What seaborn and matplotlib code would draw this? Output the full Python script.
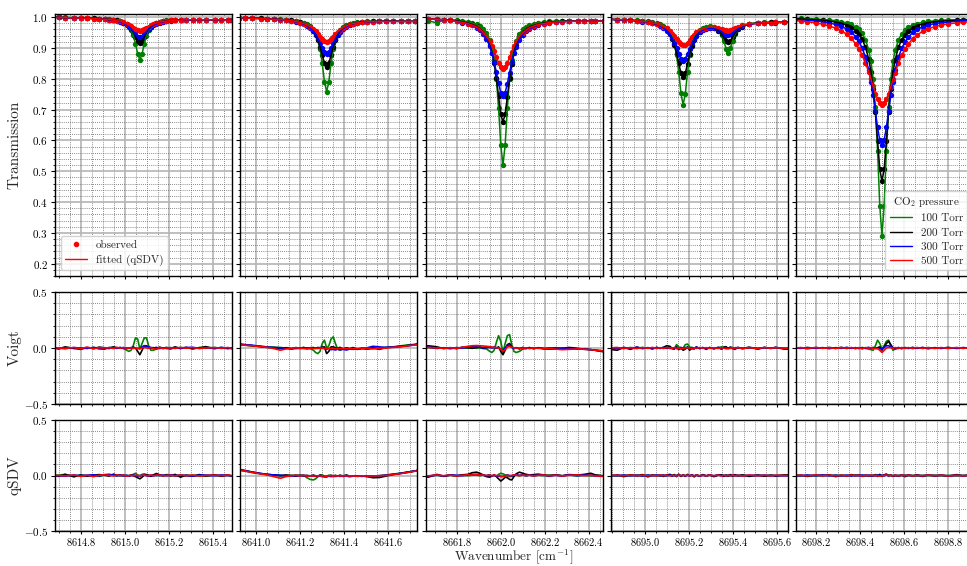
import numpy as np
import pandas as pd
import matplotlib
matplotlib.use("Agg")
import matplotlib.pyplot as plt
from matplotlib.ticker import MultipleLocator, AutoMinorLocator, ScalarFormatter
from matplotlib.lines import Line2D
import seaborn as sns

sns.set_style("ticks")
plt.rcParams.update({
    "font.family": "serif",
    "font.serif": ["cmr10"],
    "mathtext.fontset": "cm",
    "axes.formatter.use_mathtext": True,
    "axes.linewidth": 1.0,
    "axes.edgecolor": "black",
    "xtick.color": "black",
    "ytick.color": "black",
    "xtick.labelsize": 7.5,
    "ytick.labelsize": 8,
    "xtick.major.size": 2.5,
    "ytick.major.size": 3,
    "xtick.minor.size": 1.6,
    "ytick.minor.size": 1.8,
    "xtick.minor.visible": True,
    "ytick.minor.visible": True,
})

PRESSURES = ["100 Torr", "200 Torr", "300 Torr", "500 Torr"]
COLOURS = ["green", "black", "blue", "red"]

# line centres [cm^-1] and the window shown around each of them
CENTRES = [8615.068, 8641.321, 8662.010, 8695.173, 8698.500]
WINDOWS = [(8614.682, 8615.487), (8640.927, 8641.732), (8661.660, 8662.465),
           (8694.845, 8695.650), (8698.109, 8698.914)]

# sampling offsets from the line centre, in 0.001 cm^-1
OFFS_SINGLE = [-400, -370, -340, -300, -270, -240, -210, -185, -160, -140,
               -120, -105, -90, -75, -60, -50, -40, -30, -20, -10,
               0, 10, 20, 30, 40, 50, 60, 75, 90, 105,
               120, 140, 160, 185, 210, 240, 270, 300, 340, 370,
               400, 420, 460, 500]
OFFS_DOUBLE = [-340, -300, -270, -240, -210, -185, -160, -140, -120, -105,
               -90, -75, -60, -50, -40, -30, -20, -10,
               0, 10, 20, 30, 40, 50, 60, 75, 90, 105,
               120, 140, 160, 175, 185, 195, 205, 215, 225, 235,
               250, 270, 300, 340, 370, 400, 420, 460, 500]

# observed transmission (x1000), rows: 100, 200, 300, 500 Torr
T_8615 = [
    [999, 999, 999, 998, 997, 997, 996, 995, 994, 993, 991, 989, 987, 983, 976, 969, 958, 941, 914, 881,
     862, 880, 914, 940, 958, 968, 975, 981, 985, 987, 989, 990, 991, 991, 991, 991, 991, 991, 991, 991, 991, 990, 990, 990],
    [999, 999, 998, 998, 997, 997, 996, 995, 994, 992, 991, 989, 986, 982, 976, 970, 962, 951, 937, 923,
     917, 923, 936, 950, 961, 969, 975, 981, 984, 986, 988, 989, 990, 991, 991, 991, 991, 991, 991, 991, 990, 990, 990, 990],
    [999, 999, 998, 997, 997, 996, 995, 994, 993, 991, 989, 987, 984, 980, 974, 969, 962, 953, 944, 937,
     934, 937, 944, 953, 961, 967, 973, 978, 982, 985, 987, 988, 989, 990, 990, 991, 991, 991, 991, 991, 990, 990, 990, 989],
    [999, 999, 998, 997, 997, 996, 995, 994, 993, 992, 990, 988, 986, 983, 978, 974, 970, 965, 961, 957,
     956, 957, 960, 965, 969, 973, 977, 981, 984, 986, 987, 989, 990, 990, 991, 991, 991, 991, 991, 991, 990, 990, 990, 989],
]
T_8641 = [
    [998, 998, 997, 996, 995, 994, 993, 992, 990, 988, 985, 982, 978, 971, 959, 947, 928, 897, 850, 791,
     758, 790, 850, 896, 927, 945, 958, 969, 975, 979, 982, 984, 985, 986, 987, 987, 987, 987, 987, 987, 986, 986, 986, 985],
    [998, 997, 997, 996, 995, 994, 992, 991, 989, 986, 983, 979, 974, 967, 955, 943, 927, 904, 877, 850,
     838, 850, 876, 903, 925, 941, 953, 964, 972, 976, 979, 982, 984, 985, 986, 986, 987, 987, 986, 986, 986, 986, 985, 985],
    [998, 997, 996, 995, 994, 993, 991, 990, 987, 985, 981, 977, 972, 965, 954, 944, 931, 916, 900, 887,
     881, 886, 899, 915, 930, 942, 952, 962, 969, 974, 978, 981, 983, 984, 985, 986, 986, 986, 986, 986, 986, 986, 985, 985],
    [998, 997, 996, 995, 994, 993, 992, 990, 988, 986, 982, 979, 975, 969, 961, 954, 946, 937, 929, 923,
     920, 922, 928, 936, 945, 952, 959, 966, 972, 976, 979, 981, 983, 985, 985, 986, 986, 986, 986, 986, 986, 986, 985, 984],
]
T_8662 = [
    [996, 994, 988, 981, 990, 991, 990, 988, 985, 981, 976, 970, 961, 948, 925, 900, 862, 800, 705, 586,
     520, 585, 705, 800, 861, 899, 924, 946, 960, 968, 973, 978, 981, 984, 986, 987, 988, 988, 988, 988, 988, 988, 988, 988],
    [996, 996, 995, 993, 992, 990, 988, 985, 981, 976, 970, 962, 952, 935, 910, 885, 850, 802, 743, 685,
     660, 685, 742, 801, 849, 884, 909, 934, 950, 960, 967, 973, 977, 981, 983, 985, 986, 987, 987, 987, 988, 988, 988, 988],
    [996, 995, 994, 992, 991, 989, 986, 982, 978, 973, 965, 957, 945, 929, 905, 883, 854, 821, 785, 755,
     743, 755, 784, 820, 853, 882, 903, 927, 943, 954, 962, 969, 974, 978, 981, 983, 985, 986, 986, 987, 987, 987, 987, 987],
    [996, 995, 994, 993, 991, 989, 986, 983, 979, 974, 968, 961, 951, 938, 921, 906, 889, 870, 851, 837,
     832, 837, 851, 869, 888, 905, 920, 937, 949, 958, 965, 971, 976, 979, 982, 984, 985, 986, 987, 987, 987, 987, 987, 987],
]
T_8695 = [
    [993, 992, 992, 991, 989, 988, 986, 984, 980, 977, 972, 964, 950, 936, 913, 877, 822, 753,
     715, 752, 821, 876, 911, 933, 947, 959, 966, 969, 970, 968, 959, 942, 923, 898, 885, 899, 924, 944,
     962, 973, 979, 982, 983, 983, 984, 984, 984],
    [993, 992, 991, 990, 988, 986, 984, 981, 977, 973, 967, 958, 944, 929, 910, 883, 850, 818,
     804, 818, 849, 881, 907, 926, 939, 952, 960, 964, 965, 963, 956, 944, 933, 923, 918, 923, 935, 947,
     960, 969, 977, 981, 982, 983, 983, 983, 983],
    [993, 991, 990, 989, 987, 985, 983, 980, 976, 971, 965, 956, 944, 932, 917, 900, 881, 865,
     859, 865, 880, 898, 915, 929, 939, 951, 958, 962, 963, 964, 959, 953, 947, 943, 942, 944, 949, 955,
     963, 971, 976, 980, 981, 982, 982, 983, 983],
    [993, 992, 991, 989, 988, 986, 984, 981, 978, 974, 969, 963, 954, 946, 938, 928, 919, 912,
     909, 911, 917, 926, 935, 943, 950, 957, 962, 965, 968, 967, 964, 961, 959, 957, 956, 957, 960, 963,
     968, 973, 978, 980, 982, 982, 983, 983, 983],
]
T_8698 = [
    [996, 996, 995, 994, 992, 991, 988, 985, 981, 976, 968, 960, 947, 927, 893, 856, 799, 708, 566, 388,
     291, 388, 566, 707, 798, 856, 892, 926, 946, 959, 967, 975, 979, 983, 986, 988, 990, 991, 991, 992, 992, 992, 992, 992],
    [995, 994, 993, 991, 990, 987, 984, 980, 974, 967, 956, 945, 928, 902, 863, 823, 767, 692, 598, 507,
     467, 507, 597, 692, 767, 822, 862, 902, 927, 943, 955, 965, 972, 978, 982, 985, 987, 988, 990, 990, 991, 991, 991, 991],
    [993, 991, 990, 987, 985, 981, 976, 970, 961, 951, 937, 921, 900, 870, 828, 791, 746, 694, 642, 601,
     585, 601, 642, 694, 746, 791, 828, 870, 899, 920, 935, 950, 960, 968, 974, 979, 982, 984, 987, 988, 989, 989, 989, 989],
    [989, 987, 985, 981, 977, 971, 964, 956, 944, 931, 914, 898, 877, 851, 821, 798, 775, 752, 734, 721,
     716, 720, 733, 752, 774, 798, 820, 851, 876, 897, 913, 930, 942, 954, 962, 969, 974, 978, 981, 983, 985, 986, 986, 986],
]

# observed minus calculated (x1000) for the Voigt fit
V_8615 = [
    [0, -5, 3, -4, 2, -3, 5, 0, -4, 3, 6, -2, 4, -3, -20, -30, -20, 20, 90, 80,
     -10, 40, 90, 90, 20, -20, -20, -10, 3, -5, 2, 4, -3, 5, 0, -4, 3, -2, 5, -3, 2, -6, 0, 0],
    [5, -8, 10, -3, -12, 4, -6, 8, 2, -5, 10, 3, -2, 4, -5, 0, 3, 8, 0, -30,
     -60, -20, 20, 20, 5, -3, 4, -6, 8, -2, 5, -4, 10, -3, 6, -8, 3, 12, -5, 4, -6, 2, 0, 0],
    [3, -2, -6, 4, 0, -3, 5, -8, -10, 4, 2, -3, 5, -4, 2, -3, 0, 4, -2, -5,
     -2, 10, 20, 15, 8, 5, -3, 6, -5, 2, -4, -8, 3, -5, 4, 6, -3, 2, -4, 5, 0, -5, 0, 0],
    [2, 0, -3, 4, -5, 8, -6, 3, 0, 2, -4, 5, -2, 3, 0, -2, 3, -4, 2, -5,
     -3, 0, 4, 2, -3, 5, -6, -10, 3, -4, 0, 2, -3, 4, -2, 3, -4, 0, 3, -2, 4, -3, 0, 0],
]
V_8641 = [
    [30, 25, 18, 15, 10, 8, 4, 0, -3, 2, -5, 3, -2, -5, -20, -40, -50, -30, 40, 70,
     0, 20, 80, 100, 40, -10, -20, -8, -3, -10, -12, -8, -5, -10, -6, 0, 5, 10, 20, 28, 32, 35, 40, 40],
    [35, 28, 22, 12, 5, 2, -5, 3, -8, 4, -3, 5, -6, 2, 4, -3, 5, -2, 8, 10,
     -50, -30, 10, 10, 3, -5, 6, -8, 2, -6, 4, -10, -2, -8, 3, -12, 4, 8, 15, 22, 30, 38, 40, 40],
    [35, 30, 25, 15, 8, 4, 2, -3, -8, -5, -2, 3, 0, -4, 2, -3, 0, 4, 2, -5,
     -10, -5, -15, -12, -18, -10, -15, -12, -18, -10, -8, -12, -5, 2, 15, 10, 5, 8, 15, 20, 28, 35, 40, 40],
    [30, 25, 20, 12, 6, -5, -20, -8, -3, 2, -3, -5, -8, -2, -6, -3, -4, -2, 0, -5,
     -3, -2, -4, -3, -5, -6, -4, -5, -3, -6, -4, -5, -3, -2, -6, -4, 0, 5, 12, 20, 26, 32, 35, 35],
]
V_8662 = [
    [0, 0, 5, -3, 2, -5, 0, 3, -2, 4, -3, 2, -5, -8, -30, -40, -20, 50, 110, 60,
     -40, 40, 110, 120, 30, -30, -40, -30, -10, -5, 2, -4, 3, -5, 2, -3, 0, -6, -10, -8, -15, -20, -30, -30],
    [0, 0, 20, 10, -5, 3, -6, 8, 4, -3, 5, 10, -2, 4, 8, 3, 6, 0, 10, -30,
     -60, -20, 30, 40, 10, -5, 3, -8, 5, -3, 4, -6, 2, -5, -10, -8, -4, 5, -3, -12, -15, -20, -35, -35],
    [0, 0, 8, -3, 2, -5, 4, -2, 8, 12, 10, 5, 2, 6, 4, 2, 5, 3, 0, -8,
     -20, 0, 25, 20, 5, -3, 2, -5, 3, -4, 2, -3, 0, -6, -4, 2, -3, -5, -10, -8, -15, -20, -25, -25],
    [0, 0, 5, 0, -3, 2, -2, 5, 15, 20, 22, 20, 18, 15, 12, 8, 5, 3, 0, -10,
     -25, -15, 10, 15, 8, 2, -2, 0, -3, 2, -5, 0, -3, -4, -6, -10, -15, -12, -8, -10, -15, -20, -28, -28],
]
V_8695 = [
    [0, 3, -5, 4, -2, 5, -3, 2, -4, 3, -2, 4, -5, -3, -10, 30, 10, -10,
     0, 30, 35, 10, -10, -5, 3, -4, 2, -5, 3, -2, 4, 10, 5, -5, -3, 8, 4, -2, 3, -4, 2, -3, 4, -2, 3, -3, -3],
    [-10, -20, 5, -12, 8, -5, 3, -8, 6, -4, 5, 20, 15, -5, -8, 10, -15, 5,
     -20, -10, 10, -20, 5, -8, 10, -5, 3, -12, 5, -8, 4, -10, 8, 12, -5, 6, -3, -12, 4, -6, 8, -10, 5, -4, 6, -10, -10],
    [3, -5, 4, -2, 6, -3, 2, -6, 4, -2, 5, -3, 2, -4, 3, -5, 2, 4,
     -3, 5, 3, -2, 4, -3, 6, -2, 4, -5, 2, -3, 5, -8, 4, 3, -2, 5, -6, 2, 4, -3, 2, -4, 3, -2, 4, -3, -3],
    [0, 4, -3, 2, -5, 3, -2, 5, -3, 2, -4, 3, 0, -2, 4, -3, 2, -5,
     -3, 0, 3, -2, -4, 2, -3, 4, -2, 3, -3, 2, -4, 3, -2, -5, -6, -3, 2, -2, 3, -4, 2, -3, 4, -2, 3, -2, -2],
]
V_8698 = [
    [3, -2, 4, -3, 2, -5, 3, -2, 4, -3, 2, -4, 5, -3, -10, -15, -20, 20, 70, 40,
     -10, 20, 60, 70, 20, -20, -10, -3, 4, -2, 3, -5, 2, -3, 4, -2, 3, -4, 2, -3, 4, -2, 0, 0],
    [-5, 3, -6, 4, -2, 5, -3, 6, -4, 2, -5, 3, -6, 2, 4, -3, 5, -2, 3, 10,
     -20, 10, 40, 60, 30, 0, -5, 3, -6, 4, -2, 5, -3, 4, -6, 3, -2, 5, -4, 2, -5, 3, 0, 0],
    [2, -3, 4, -2, 3, -4, 2, -3, 5, -2, 3, -4, 2, -3, 4, -2, 3, -5, -3, -5,
     -8, 5, 20, 20, 10, 3, -2, 4, -3, 2, -4, 3, -2, 4, -3, 2, -4, 3, -2, 4, -3, 2, 0, 0],
    [0, 3, -2, 4, -3, 2, -4, 3, -2, 4, -3, 2, -5, 3, -2, 4, -3, -2, -5, -20,
     -40, -20, 0, 5, 3, -2, 4, -3, 2, -4, 3, -2, 4, -3, 2, -4, 3, -2, 4, -3, 2, -3, 0, 0],
]

# observed minus calculated (x1000) for the quadratic speed-dependent Voigt fit
Q_8615 = [
    [-5, 3, 10, -6, 4, -2, 3, -8, 5, 8, 4, -3, 6, -4, 2, -5, 3, 10, 20, 5,
     -5, 10, 15, 5, -3, -6, 4, -2, 5, -3, 8, 4, -5, 3, -2, 4, -4, -6, 3, -2, 5, -8, 0, 0],
    [5, -8, 10, -12, 4, -6, 3, 8, 2, -5, 12, 3, -2, 4, -5, 0, 3, -2, -10, -20,
     -30, -15, 5, 8, 3, -8, 4, 18, 6, -3, 5, -4, 10, -15, 3, -6, 8, -3, 5, -6, 2, -3, 0, 0],
    [3, -2, -6, 4, -2, 3, 5, -4, 8, 10, 4, -3, 5, -4, 2, -6, 0, 4, -2, -5,
     0, 2, 4, -2, -6, 3, -4, 6, -2, 4, -3, 5, -2, 3, 0, -5, 2, 4, -3, 5, 0, -4, 0, 0],
    [2, 0, -3, 4, -8, 2, -10, 3, 6, 2, -4, 5, 0, 3, -6, -2, 3, -4, 2, 0,
     -3, 2, 4, 0, -3, 5, -2, 4, 3, -2, 0, 2, -3, 4, -2, 3, -4, 0, 3, -2, 4, -3, 0, 0],
]
Q_8641 = [
    [50, 40, 28, 15, 8, 5, 2, -3, 0, 4, -2, 3, -20, -35, -40, -30, -10, 0, 5, -5,
     -8, 3, -5, -10, -6, -3, -8, -4, -5, -8, -3, -6, -4, -8, -5, -2, 5, 12, 22, 32, 40, 50, 55, 55],
    [55, 45, 32, 18, 10, 4, -3, 5, 0, -6, 3, -4, 2, -5, 4, -3, -8, 5, -2, -10,
     -12, -5, 3, -4, 2, -6, 3, -4, 5, -6, -3, -8, -4, -10, -20, -18, -5, 8, 20, 30, 40, 50, 55, 55],
    [50, 42, 30, 18, 10, 5, 2, -2, -5, 0, -3, 2, -4, -2, -6, -3, -8, -5, -10, -12,
     -8, -6, -10, -5, -8, -6, -4, -8, -5, -10, -6, -3, -8, -4, -5, -2, 3, 10, 20, 30, 40, 48, 55, 55],
    [50, 40, 28, 15, 5, -10, -25, -10, -2, 3, -4, 2, -5, -3, -6, -4, -2, -5, -3, -6,
     -8, -4, -2, -5, -3, -6, -4, -2, -5, -3, -4, -6, -3, -5, -4, -2, 0, 8, 18, 28, 38, 45, 50, 50],
]
Q_8662 = [
    [0, 0, -5, 3, -6, 2, -4, 5, -2, 3, 6, -3, 5, -2, 4, -4, 3, -5, 10, 20,
     15, 5, -5, -10, -8, 3, 5, -3, 4, -2, 5, -4, 3, -2, 5, 3, -2, 4, -3, 2, -4, 3, -5, -5],
    [0, 0, -15, 10, -8, 4, -3, 6, 10, 25, 30, 20, 5, -10, -15, -5, 5, -10, -30, -50,
     -35, -15, -20, -35, -40, -10, 15, 30, 20, 10, 5, 8, 12, 5, -4, 6, -3, 8, 4, 10, 20, 5, -3, -3],
    [0, 0, -5, 3, -4, 6, 2, -3, 5, 8, 10, 6, 3, -2, 5, -4, 3, -6, -5, -10,
     -8, -3, 5, 0, -5, 3, 6, 2, 5, -3, 4, -2, 5, 3, -4, 2, -3, 5, -2, 4, 3, -5, -8, -8],
    [0, 0, -3, 5, -2, 3, -4, 2, 6, 4, 8, 5, 3, 0, 4, -3, 5, -2, 0, -5,
     -10, -5, 3, -4, 2, 5, 3, -2, 4, 0, 3, -3, 2, 4, -2, 3, -4, 2, 5, -2, 3, -4, -6, -6],
]
Q_8695 = [
    [2, -4, 3, -2, 5, -3, 4, -2, 3, -5, 2, -3, 4, 6, -3, 2, 8, -4,
     3, -2, 5, -3, 2, -4, 3, -2, 5, -3, 2, -4, 3, 5, -2, 4, -3, 2, -5, 3, -2, 4, -3, 2, -4, 3, -2, 3, 3],
    [-8, 5, -10, 6, -4, 8, -12, 5, -3, 6, -8, 4, 10, -5, 8, -10, 12, -8,
     5, -6, 10, -4, 6, -12, 4, -6, 8, -3, 5, -10, 4, 6, -8, 3, -5, 8, -4, 6, -3, 5, -8, 4, -6, 3, -5, 4, 4],
    [3, -2, 4, -3, 2, -5, 3, -2, 4, -3, 5, -2, 3, -4, 2, -3, 5, -2,
     3, -4, 2, -3, 4, -2, 3, -5, 2, -3, 4, -2, 5, -3, 2, -4, 3, -2, 4, -3, 2, -5, 3, -2, 4, -3, 2, -3, -3],
    [0, 2, -3, 4, -2, 3, -4, 2, -3, 5, -2, 3, -4, 2, 0, -3, 4, -2,
     3, -2, 4, -3, 2, -4, 3, -2, 2, -3, 4, -2, 3, -4, 2, -3, 2, -2, 4, -3, 2, -4, 3, -2, 2, -3, 2, 0, 0],
]
Q_8698 = [
    [3, -4, 2, -5, 3, -2, 4, -3, 2, -4, 5, -2, 3, -4, 2, -5, 3, 8, 5, -3,
     -8, 5, 10, 4, -3, 2, -4, 3, -2, 4, -3, 2, -5, 3, -2, 4, -3, 2, -4, 3, -2, 4, 0, 0],
    [-6, 4, -8, 5, -3, 6, -10, 4, -5, 8, -3, 6, -8, 4, -5, 3, -6, 5, -8, 10,
     -5, 6, 12, -4, 5, -8, 3, -6, 4, -10, 5, -3, 6, -8, 4, -5, 3, -6, 8, -4, 5, -3, 0, 0],
    [2, -3, 4, -2, 5, -3, 2, -4, 3, -5, 2, -3, 4, -2, 3, -4, 2, -3, 5, -2,
     3, -4, 6, -2, 3, -5, 2, -3, 4, -2, 3, -4, 2, -3, 5, -2, 3, -4, 2, -3, 4, -2, 0, 0],
    [0, 2, -3, 4, -2, 3, -4, 2, -3, 4, -2, 3, -5, 2, -3, 4, -2, 3, -4, -6,
     -3, 2, 4, -2, 3, -4, 2, -3, 4, -2, 3, -4, 2, -3, 4, -2, 3, -4, 2, -3, 4, -2, 0, 0],
]

PANELS = [
    (CENTRES[0], OFFS_SINGLE, T_8615, V_8615, Q_8615),
    (CENTRES[1], OFFS_SINGLE, T_8641, V_8641, Q_8641),
    (CENTRES[2], OFFS_SINGLE, T_8662, V_8662, Q_8662),
    (CENTRES[3], OFFS_DOUBLE, T_8695, V_8695, Q_8695),
    (CENTRES[4], OFFS_SINGLE, T_8698, V_8698, Q_8698),
]

# figure layout in pixels
FIG_W, FIG_H = 967, 566
COL_LEFT = [55, 240, 426, 611, 796]
COL_W = 177
ROW_SPANS = [(14, 276), (292, 404), (420, 531)]


def rect(x0, y0, y1):
    return [x0 / FIG_W, 1 - y1 / FIG_H, COL_W / FIG_W, (y1 - y0) / FIG_H]


fig = plt.figure(figsize=(FIG_W / 100, FIG_H / 100), dpi=100)
axes = [[fig.add_axes(rect(x0, y0, y1)) for x0 in COL_LEFT] for (y0, y1) in ROW_SPANS]


def style_axis(ax, row, col, xlim):
    ax.set_xlim(*xlim)
    ax.xaxis.set_major_locator(MultipleLocator(0.2))
    ax.xaxis.set_minor_locator(AutoMinorLocator(4))
    ax.xaxis.set_major_formatter(ScalarFormatter(useOffset=False, useMathText=True))
    if row == 0:
        ax.set_ylim(0.16, 1.01)
        ax.yaxis.set_major_locator(MultipleLocator(0.1))
    else:
        ax.set_ylim(-0.5, 0.5)
        ax.yaxis.set_major_locator(MultipleLocator(0.5))
    ax.yaxis.set_minor_locator(AutoMinorLocator(5))
    ax.set_axisbelow(True)
    ax.grid(True, which="major", color="#b4b4b4", lw=1.2, ls="-")
    ax.grid(True, which="minor", color="#666666", lw=0.6, ls=(0, (1, 1.5)))
    ax.tick_params(which="both", direction="out", labelbottom=(row == 2), labelleft=(col == 0))
    ax.tick_params(axis="y", which="major", pad=2.0)
    ax.tick_params(axis="x", which="major", pad=1.0)
    for side in ax.spines.values():
        side.set_linewidth(1.0)
        side.set_color("black")
    ax.set_xlabel("")
    ax.set_ylabel("")


for col, (centre, offs, trans, voigt, qsdv) in enumerate(PANELS):
    wn = centre + np.asarray(offs) / 1000.0
    frames = []
    for p, t, v, q in zip(PRESSURES, trans, voigt, qsdv):
        frames.append(pd.DataFrame({
            "wavenumber": wn,
            "transmission": np.asarray(t) / 1000.0,
            "voigt": np.asarray(v) / 1000.0,
            "qsdv": np.asarray(q) / 1000.0,
            "pressure": p,
        }))
    df = pd.concat(frames, ignore_index=True)

    ax_t, ax_v, ax_q = axes[0][col], axes[1][col], axes[2][col]
    for p, c in zip(PRESSURES, COLOURS):
        sub = df[df["pressure"] == p]
        sns.lineplot(data=sub, x="wavenumber", y="transmission", color=c, lw=1.1,
                     estimator=None, sort=False, ax=ax_t)
        sns.scatterplot(data=sub, x="wavenumber", y="transmission", color=c, s=15,
                        linewidth=0, ax=ax_t)
        sns.lineplot(data=sub, x="wavenumber", y="voigt", color=c, lw=1.2,
                     estimator=None, sort=False, ax=ax_v)
        sns.lineplot(data=sub, x="wavenumber", y="qsdv", color=c, lw=1.2,
                     estimator=None, sort=False, ax=ax_q)

    for row, ax in enumerate((ax_t, ax_v, ax_q)):
        style_axis(ax, row, col, WINDOWS[col])

# axis labels
for row, text in enumerate(["Transmission", "Voigt", "qSDV"]):
    axes[row][0].set_ylabel(text, fontsize=11)
    axes[row][0].yaxis.set_label_coords(-0.19, 0.5)
fig.text(514 / FIG_W, 1 - 557 / FIG_H, "Wavenumber [cm$^{-1}$]", fontsize=9.5,
         ha="center", va="center")

# legends
obs_handles = [
    Line2D([], [], marker="o", ls="", color="red", ms=3),
    Line2D([], [], color="red", lw=1.0),
]
axes[0][0].legend(obs_handles, ["observed", "fitted (qSDV)"], loc="lower left",
                  fontsize=8, framealpha=0.85, edgecolor="#cccccc", borderaxespad=0.5,
                  handlelength=2.0, borderpad=0.4, labelspacing=0.4)

p_handles = [Line2D([], [], color=c, lw=1.0) for c in COLOURS]
axes[0][4].legend(p_handles, PRESSURES, loc="lower right", title="CO$_2$ pressure",
                  fontsize=8, title_fontsize=8, framealpha=0.85, edgecolor="#cccccc",
                  borderaxespad=0.5, handlelength=2.0, borderpad=0.4, labelspacing=0.4)

fig.savefig("out.png", dpi=100)
